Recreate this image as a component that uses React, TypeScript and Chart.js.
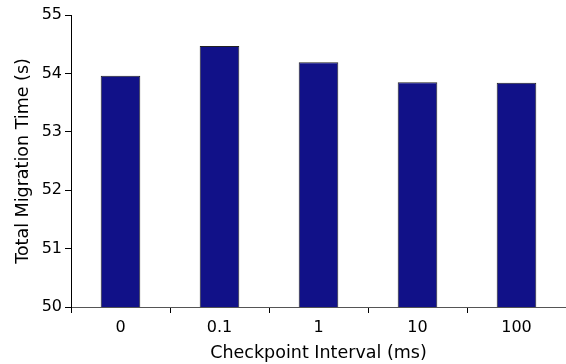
import React, { useEffect, useRef } from 'react';
import { Chart, registerables } from 'chart.js';

Chart.register(...registerables);

const categories = ['0', '0.1', '1', '10', '100'];
const migrationTime = [53.96, 54.47, 54.19, 53.85, 53.84];
const yMin = 50;
const yMax = 55;

export default function App() {
  const ref = useRef<HTMLCanvasElement | null>(null);
  useEffect(() => {
    document.body.style.margin = '0';
    const font = { family: 'DejaVu Sans', size: 16 };
    const titleFont = { family: 'DejaVu Sans', size: 17.5 };
    const chart = new Chart(ref.current!, {
      type: 'bar',
      data: {
        labels: categories,
        datasets: [
          {
            data: migrationTime,
            backgroundColor: '#111188',
            borderColor: '#222222',
            borderWidth: 1,
            borderSkipped: 'start',
            barPercentage: 0.4,
            categoryPercentage: 1,
          },
        ],
      },
      options: {
        animation: false,
        responsive: false,
        devicePixelRatio: 1,
        layout: { padding: { top: 15, right: 0, left: 13, bottom: 0 } },
        plugins: { legend: { display: false }, tooltip: { enabled: false } },
        scales: {
          x: {
            offset: true,
            grid: { display: true, drawOnChartArea: false, offset: true, tickLength: 6, color: '#000' },
            border: { display: true, color: '#555' },
            ticks: { font, color: '#000', padding: 5 },
            title: { display: true, text: 'Checkpoint Interval (ms)', font: titleFont, color: '#000', padding: { top: 2, bottom: 0 } },
            afterFit: (s: any) => { s.height = 57; },
          },
          y: {
            min: yMin,
            max: yMax,
            ticks: { stepSize: 1, font, color: '#000', padding: 3 },
            grid: { display: true, drawOnChartArea: false, tickLength: 6, color: '#000' },
            border: { display: true, color: '#000' },
            title: { display: true, text: 'Total Migration Time (s)', font: titleFont, color: '#000', padding: { top: 0, bottom: 4 } },
            afterFit: (s: any) => { s.width = 58; },
          },
        },
      },
    });
    return () => chart.destroy();
  }, []);
  return (
    <div style={{ position: 'absolute', left: 0, top: 0, width: 566, height: 364 }}>
      <canvas ref={ref} width={566} height={364} />
    </div>
  );
}
